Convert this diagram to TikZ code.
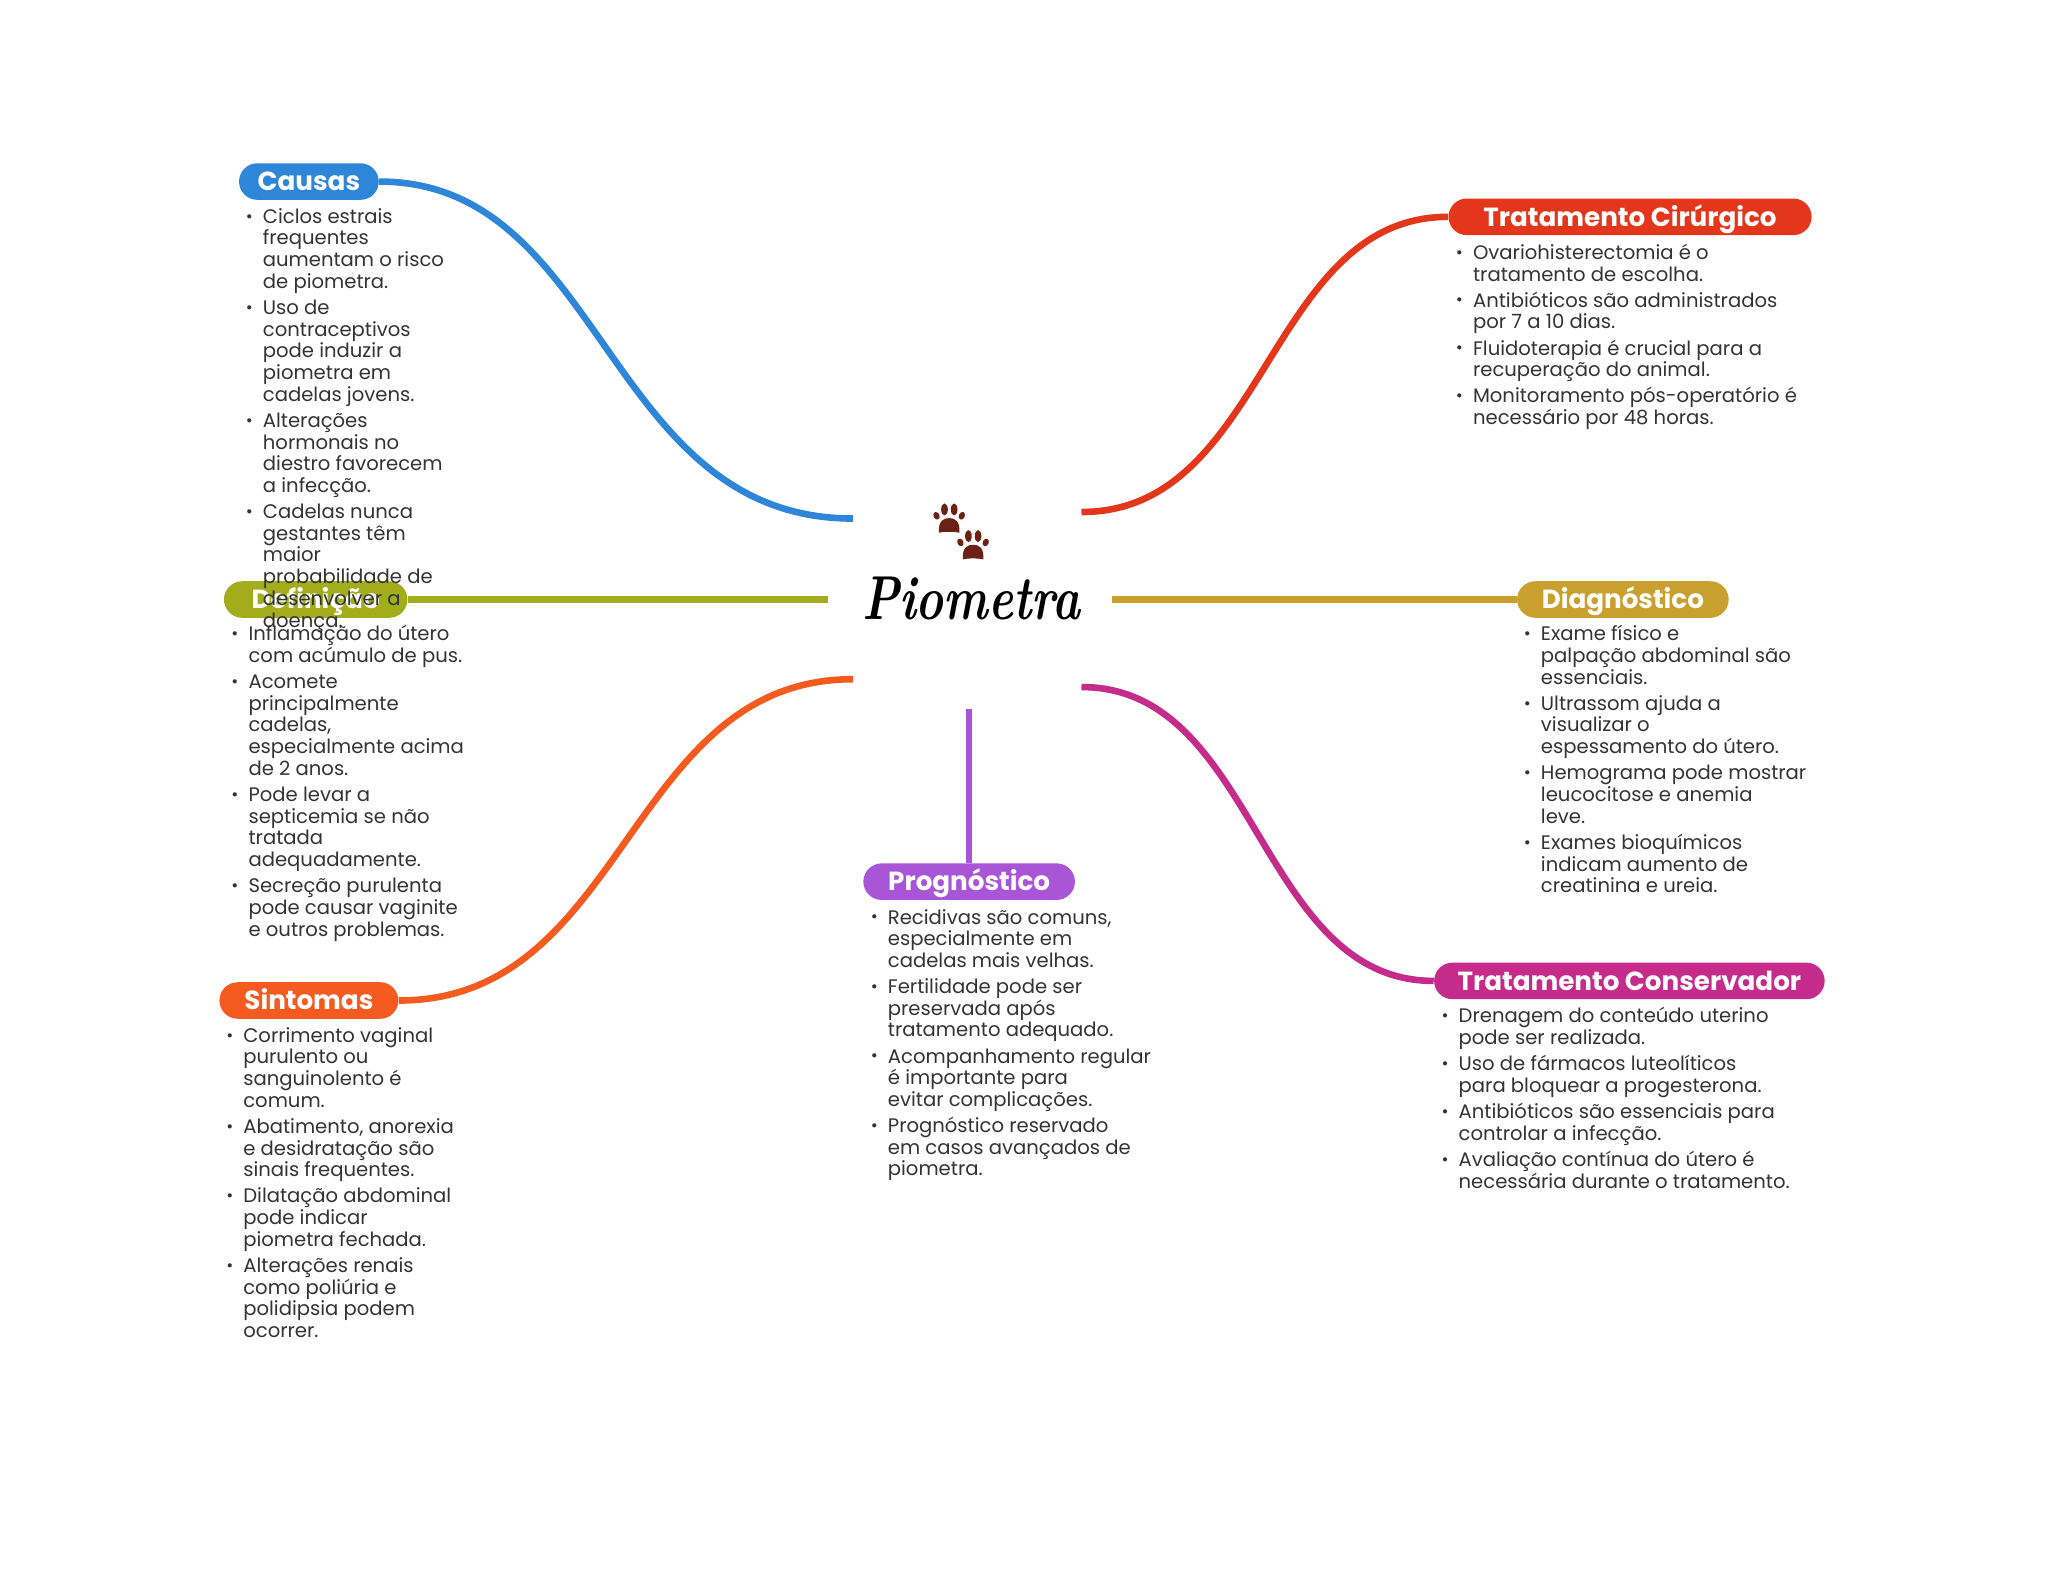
\documentclass[tikz,border=0pt]{standalone}
\usepackage{fontspec}
\usepackage{graphicx}
\setmainfont{Poppins}
\usetikzlibrary{shapes.misc}
\definecolor{cblue}{HTML}{2E86D8}
\definecolor{colive}{HTML}{A2AD1B}
\definecolor{corange}{HTML}{F55A1E}
\definecolor{cpurple}{HTML}{A855D8}
\definecolor{cgold}{HTML}{C9A02E}
\definecolor{cred}{HTML}{E4361A}
\definecolor{cmag}{HTML}{C42B8A}
\definecolor{cpaw}{HTML}{6B2215}
\definecolor{ctext}{HTML}{333333}
\newcommand{\I}{\strut\makebox[9.14pt][l]{\hspace{0.6pt}\raisebox{0.6pt}{\fontsize{8.5}{8.5}\selectfont\textbullet}}}
\newcommand{\N}{\strut\hspace*{9.14pt}}
\newcommand{\G}{\\[2.25pt]}
\newcommand{\tightlines}{\lineskiplimit=-20pt\relax}
\tikzset{
  x=0.65306pt,y=-0.65306pt,
  branchlabel/.style={rounded rectangle,inner sep=0pt,text=white,text height=9.6pt,text depth=0.3pt,
    font=\fontsize{13.1}{13.1}\selectfont\bfseries},
  itemlist/.style={anchor=north west,inner sep=0pt,align=left,text=ctext,
    font=\fontsize{9.8}{10.84}\selectfont,execute at begin node={\tightlines}},
  branch/.style={line width=3.3pt},
  pawshape/.pic={
    \fill[cpaw] (-31,38) .. controls (-33,0) and (-15,-6) .. (0,-6)
       .. controls (15,-6) and (33,0) .. (31,38)
       .. controls (15,34) and (-15,34) .. cycle;
    \fill[cpaw,rotate around={25:(-38,-13)}] (-38,-13) ellipse [x radius=9,y radius=12];
    \fill[cpaw] (-14,-32) ellipse [x radius=10,y radius=18];
    \fill[cpaw] (15,-32) ellipse [x radius=10,y radius=18];
    \fill[cpaw,rotate around={-25:(38,-13)}] (38,-13) ellipse [x radius=9,y radius=12];
  }
}
\begin{document}
\begin{tikzpicture}
\useasboundingbox (0,0) rectangle (1568,1201.4);
% centre
\pic[scale=0.255] at (726.7,398.2) {pawshape};
\pic[scale=0.255] at (745,418.6) {pawshape};
\node[inner sep=0pt,font=\fontsize{31}{31}\selectfont] (root) at (743.5,458)
  {\scalebox{0.76}[1]{\fontspec{Latin Modern Roman}\bfseries\itshape Piometra}};
% connector free ends
\coordinate (eCausas) at (653,397);
\coordinate (eDef) at (634,459);
\coordinate (eSint) at (653,520);
\coordinate (eProg) at (742,543);
\coordinate (eDiag) at (851,459);
\coordinate (eCir) at (828,392);
\coordinate (eCons) at (828,526);
% labels
\node[branchlabel,fill=cblue,minimum width=107*0.65306pt,minimum height=28*0.65306pt] (causas) at (236.5,139) {Causas};
\node[branchlabel,fill=colive,minimum width=140.5*0.65306pt,minimum height=28*0.65306pt] (def) at (241.7,459) {Definição};
\node[branchlabel,fill=corange,minimum width=137*0.65306pt,minimum height=28*0.65306pt] (sint) at (236.5,766) {Sintomas};
\node[branchlabel,fill=cpurple,minimum width=162*0.65306pt,minimum height=28*0.65306pt] (prog) at (742,675) {Prognóstico};
\node[branchlabel,fill=cgold,minimum width=162*0.65306pt,minimum height=28*0.65306pt] (diag) at (1242.5,459) {Diagnóstico};
\node[branchlabel,fill=cred,minimum width=278*0.65306pt,minimum height=28*0.65306pt] (cir) at (1248,166) {Tratamento Cirúrgico};
\node[branchlabel,fill=cmag,minimum width=299*0.65306pt,minimum height=28*0.65306pt] (cons) at (1247.5,751) {Tratamento Conservador};
% connectors
\draw[branch,cblue] (causas.east) .. controls (463,139) and (463,397) .. (eCausas);
\draw[branch,colive] (def.east) -- (eDef);
\draw[branch,corange] (sint.east) .. controls (480,766) and (480,520) .. (eSint);
\draw[branch,cpurple] (prog.north) -- (eProg);
\draw[branch,cgold] (diag.west) -- (eDiag);
\draw[branch,cred] (cir.west) .. controls (970,166) and (970,392) .. (eCir);
\draw[branch,cmag] (cons.west) .. controls (963,751) and (963,526) .. (eCons);
% lists
\node[itemlist] (lCausas) at (187,159) {\I Ciclos estrais\\\N frequentes\\\N aumentam o risco\\\N de piometra.\G
\I Uso de\\\N contraceptivos\\\N pode induzir a\\\N piometra em\\\N cadelas jovens.\G
\I Alterações\\\N hormonais no\\\N diestro favorecem\\\N a infecção.\G
\I Cadelas nunca\\\N gestantes têm\\\N maior\\\N probabilidade de\\\N desenvolver a\\\N doença.};
\node[itemlist] (lDef) at (176,478.5) {\I Inflamação do útero\\\N com acúmulo de pus.\G
\I Acomete\\\N principalmente\\\N cadelas,\\\N especialmente acima\\\N de 2 anos.\G
\I Pode levar a\\\N septicemia se não\\\N tratada\\\N adequadamente.\G
\I Secreção purulenta\\\N pode causar vaginite\\\N e outros problemas.};
\node[itemlist] (lSint) at (172,786) {\I Corrimento vaginal\\\N purulento ou\\\N sanguinolento é\\\N comum.\G
\I Abatimento, anorexia\\\N e desidratação são\\\N sinais frequentes.\G
\I Dilatação abdominal\\\N pode indicar\\\N piometra fechada.\G
\I Alterações renais\\\N como poliúria e\\\N polidipsia podem\\\N ocorrer.};
\node[itemlist] (lProg) at (665.5,695.5) {\I Recidivas são comuns,\\\N especialmente em\\\N cadelas mais velhas.\G
\I Fertilidade pode ser\\\N preservada após\\\N tratamento adequado.\G
\I Acompanhamento regular\\\N é importante para\\\N evitar complicações.\G
\I Prognóstico reservado\\\N em casos avançados de\\\N piometra.};
\node[itemlist] (lDiag) at (1165.5,478.5) {\I Exame físico e\\\N palpação abdominal são\\\N essenciais.\G
\I Ultrassom ajuda a\\\N visualizar o\\\N espessamento do útero.\G
\I Hemograma pode mostrar\\\N leucocitose e anemia\\\N leve.\G
\I Exames bioquímicos\\\N indicam aumento de\\\N creatinina e ureia.};
\node[itemlist] (lCir) at (1113.5,186.5) {\I Ovariohisterectomia é o\\\N tratamento de escolha.\G
\I Antibióticos são administrados\\\N por 7 a 10 dias.\G
\I Fluidoterapia é crucial para a\\\N recuperação do animal.\G
\I Monitoramento pós-operatório é\\\N necessário por 48 horas.};
\node[itemlist] (lCons) at (1102.5,771) {\I Drenagem do conteúdo uterino\\\N pode ser realizada.\G
\I Uso de fármacos luteolíticos\\\N para bloquear a progesterona.\G
\I Antibióticos são essenciais para\\\N controlar a infecção.\G
\I Avaliação contínua do útero é\\\N necessária durante o tratamento.};
\end{tikzpicture}
\end{document}
